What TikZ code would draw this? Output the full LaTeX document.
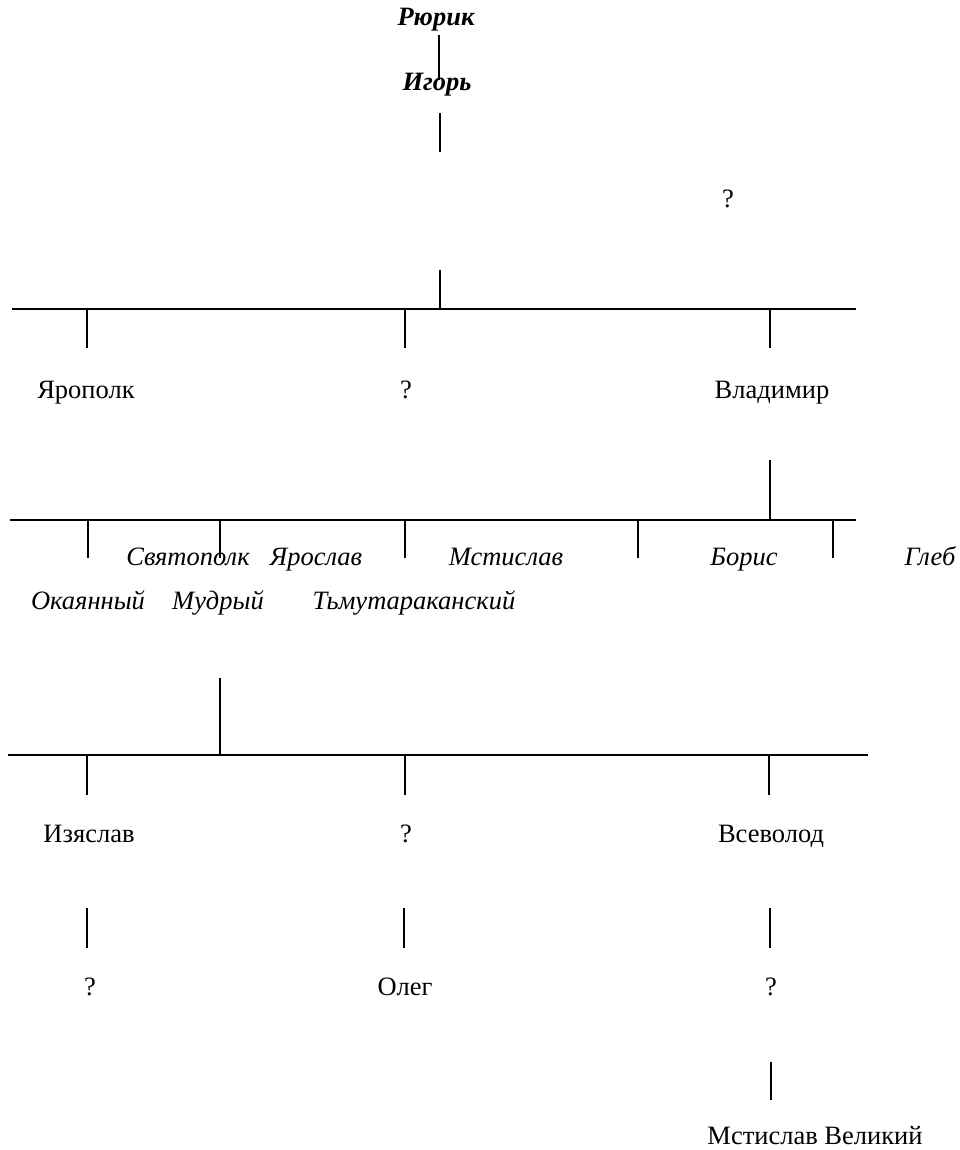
\documentclass[tikz,border=0pt]{standalone}
\usepackage{fontspec}
\setmainfont{Liberation Serif}
\begin{document}
\begin{tikzpicture}[x=1pt,y=-1pt,
  lbl/.style={font=\fontsize{26.5}{30}\selectfont, inner sep=0pt, anchor=base},
  ilbl/.style={lbl, font=\fontsize{26.5}{30}\selectfont\itshape},
  blbl/.style={lbl, font=\fontsize{26.5}{30}\selectfont\bfseries\itshape},
  bar/.style={line width=2pt},
  tick/.style={line width=1.6pt}]
\useasboundingbox (0,0) rectangle (960,1150);
% top
\node[blbl] (rurik) at (436,26) {Рюрик};
\node[blbl] (igor) at (437,91) {Игорь};
\draw[tick] (439,35) -- (439,80);
\coordinate (i1) at (440,113); \coordinate (i2) at (440,152);
\draw[tick] (i1) -- (i2);
\node[lbl] (q0) at (728,208) {?};
% bar 1
\coordinate (s1t) at (440,270); \coordinate (s1b) at (440,309);
\draw[tick] (s1t) -- (s1b);
\coordinate (b1l) at (12,309); \coordinate (b1r) at (856,309);
\draw[bar] (b1l) -- (b1r);
\foreach \x/\n in {87/a,405/b,770/c}{
  \coordinate (t1\n) at (\x,309); \coordinate (u1\n) at (\x,348);
  \draw[tick] (t1\n) -- (u1\n);}
\node[lbl] (yaropolk) at (86,398) {Ярополк};
\node[lbl] (q1) at (406,398) {?};
\node[lbl] (vladimir) at (772,398) {Владимир};
% bar 2
\coordinate (s2t) at (770,460); \coordinate (s2b) at (770,520);
\draw[tick] (s2t) -- (s2b);
\coordinate (b2l) at (10,520); \coordinate (b2r) at (856,520);
\draw[bar] (b2l) -- (b2r);
\foreach \x/\n in {88/a,220/b,405/c,638/d,833/e}{
  \coordinate (t2\n) at (\x,520); \coordinate (u2\n) at (\x,558);
  \draw[tick] (t2\n) -- (u2\n);}
\node[ilbl] (svyat) at (188,565) {Святополк};
\node[ilbl] (yarosl) at (316,565) {Ярослав};
\node[ilbl] (mstis) at (506,565) {Мстислав};
\node[ilbl] (boris) at (744,565) {Борис};
\node[ilbl] (gleb) at (930,565) {Глеб};
\node[ilbl] (okay) at (88,609) {Окаянный};
\node[ilbl] (mudr) at (218,609) {Мудрый};
\node[ilbl] (tmut) at (414,609) {Тьмутараканский};
% bar 3
\coordinate (s3t) at (220,678); \coordinate (s3b) at (220,755);
\draw[tick] (s3t) -- (s3b);
\coordinate (b3l) at (8,755); \coordinate (b3r) at (868,755);
\draw[bar] (b3l) -- (b3r);
\foreach \x/\n in {87/a,405/b,769/c}{
  \coordinate (t3\n) at (\x,755); \coordinate (u3\n) at (\x,795);
  \draw[tick] (t3\n) -- (u3\n);}
\node[lbl] (izyas) at (89,842) {Изяслав};
\node[lbl] (q2) at (406,842) {?};
\node[lbl] (vsev) at (771,842) {Всеволод};
\foreach \x/\n in {87/a,404/b,770/c}{
  \coordinate (v4\n) at (\x,908); \coordinate (w4\n) at (\x,948);
  \draw[tick] (v4\n) -- (w4\n);}
\node[lbl] (q3) at (90,995) {?};
\node[lbl] (oleg) at (405,995) {Олег};
\node[lbl] (q4) at (771,995) {?};
\coordinate (m1) at (771,1062); \coordinate (m2) at (771,1100);
\draw[tick] (m1) -- (m2);
\node[lbl] (mvel) at (815,1144) {Мстислав Великий};
\end{tikzpicture}
\end{document}
